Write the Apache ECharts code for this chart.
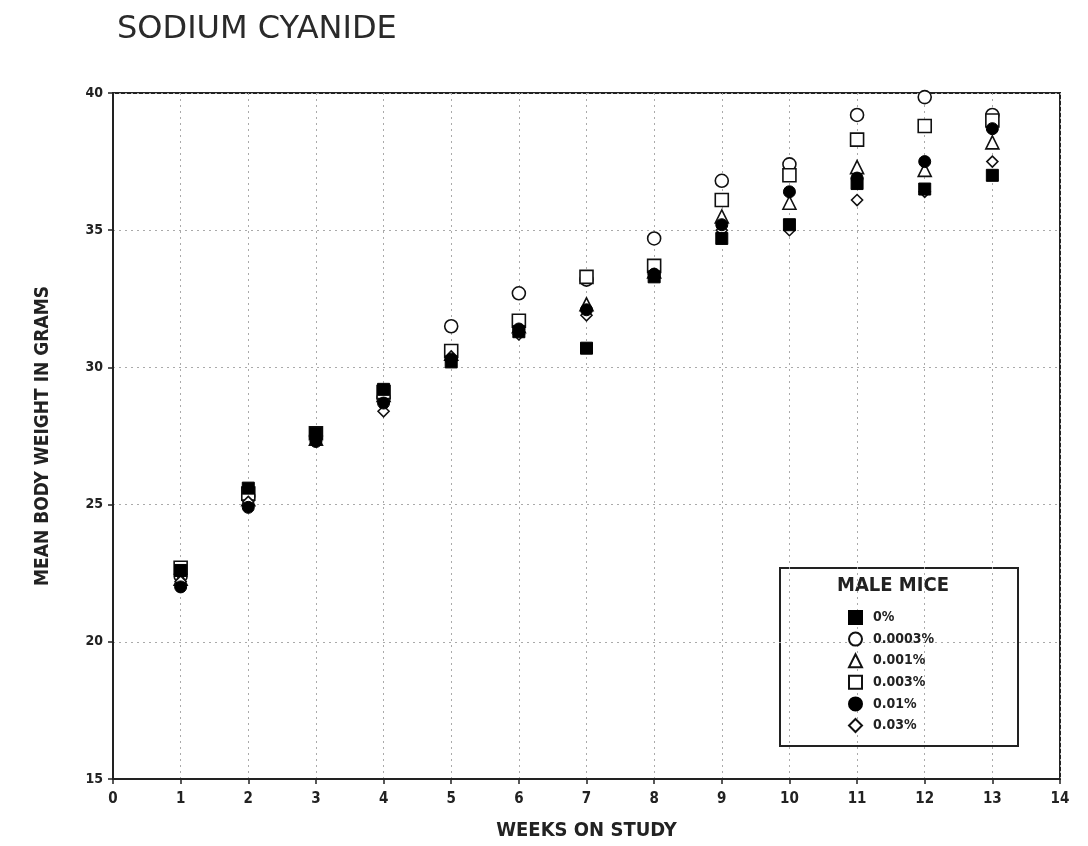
<!DOCTYPE html>
<html>
<head>
<meta charset="utf-8">
<script src="https://cdn.jsdelivr.net/npm/echarts@6/dist/echarts.min.js"></script>
<style>
html,body{margin:0;padding:0;background:#fff;}
#chart{width:1088px;height:846px;}
</style>
</head>
<body>
<div id="chart"></div>
<script>
const weeks = [1,2,3,4,5,6,7,8,9,10,11,12,13];
const seriesNames = ['0%','0.0003%','0.001%','0.003%','0.01%','0.03%'];
const dose0     = [22.6,25.6,27.6,29.2,30.2,31.3,30.7,33.3,34.7,35.2,36.7,36.5,37.0];
const dose00003 = [22.4,25.3,27.5,28.9,31.5,32.7,33.2,34.7,36.8,37.4,39.2,39.85,39.2];
const dose0001  = [22.3,25.2,27.4,29.0,30.5,31.5,32.3,33.5,35.5,36.0,37.3,37.2,38.2];
const dose0003  = [22.7,25.4,27.6,29.1,30.6,31.7,33.3,33.7,36.1,37.0,38.3,38.8,39.0];
const dose001   = [22.0,24.9,27.3,28.7,30.3,31.4,32.1,33.4,35.2,36.4,36.9,37.5,38.7];
const dose003   = [22.2,25.1,27.4,28.4,30.4,31.2,31.9,33.4,35.0,35.0,36.1,36.4,37.5];
const xTicks = [0,1,2,3,4,5,6,7,8,9,10,11,12,13,14];
const yTicks = [15,20,25,30,35,40];

const allValues = [dose0,dose00003,dose0001,dose0003,dose001,dose003];
const symbols = ['rect','circle','triangle','rect','circle','diamond'];
const filled  = [true,false,false,false,true,false];
const sizes   = [12,13,13,13,12,11];

const font = 'DejaVu Sans Condensed, Liberation Sans Narrow, DejaVu Sans, sans-serif';

const chart = echarts.init(document.getElementById('chart'), null, {renderer:'canvas'});
const series = seriesNames.map((n,i)=>({
  name:n,
  type:'scatter',
  symbol:symbols[i],
  symbolSize:sizes[i],
  data: weeks.map((w,j)=>[w, allValues[i][j]]),
  itemStyle: filled[i] ? {color:'#000', borderColor:'#000', borderWidth:1, opacity:1}
                       : {color:'#fff', borderColor:'#111', borderWidth:1.6, opacity:1},
  z: filled[i] ? 4 : 3
}));

chart.setOption({
  backgroundColor:'#fff',
  animation:false,
  title:{
    text:'SODIUM CYANIDE',
    left:112, top:9,
    textStyle:{fontFamily:'DejaVu Sans, sans-serif', fontSize:32, fontWeight:'normal', color:'#2a2a2a'}
  },
  grid:{left:113, right:28, top:93, bottom:65, show:true, borderColor:'#222', borderWidth:2, backgroundColor:'transparent'},
  xAxis:{
    type:'value', min:0, max:14, interval:1,
    name:'WEEKS ON STUDY', nameLocation:'middle', nameGap:42,
    nameTextStyle:{fontFamily:font, fontSize:20, fontWeight:'bold', color:'#222'},
    axisLine:{show:true, onZero:false, lineStyle:{color:'#222', width:2}},
    axisTick:{show:true, length:5, lineStyle:{color:'#222', width:1.5}},
    axisLabel:{fontFamily:font, fontSize:15, fontWeight:'bold', color:'#222', margin:13,
      formatter:v=>xTicks.includes(v)?String(v):''},
    splitLine:{show:true, lineStyle:{color:'#aaa', type:[2,4], width:1}}
  },
  yAxis:{
    type:'value', min:15, max:40, interval:5,
    name:'MEAN BODY WEIGHT IN GRAMS', nameLocation:'middle', nameGap:60,
    nameTextStyle:{fontFamily:font, fontSize:19, fontWeight:'bold', color:'#222'},
    axisLine:{show:true, onZero:false, lineStyle:{color:'#222', width:2}},
    axisTick:{show:true, length:5, lineStyle:{color:'#222', width:1.5}},
    axisLabel:{fontFamily:font, fontSize:14, fontWeight:'bold', color:'#222', margin:10,
      formatter:v=>yTicks.includes(v)?String(v):''},
    splitLine:{show:true, lineStyle:{color:'#aaa', type:[2,4], width:1}}
  },
  legend:{
    orient:'vertical', left:843, top:605,
    itemWidth:13, itemHeight:13, itemGap:6.6,
    textStyle:{fontFamily:font, fontSize:14, fontWeight:'bold', color:'#222', padding:[0,0,0,6]},
    data:seriesNames
  },
  graphic:[
    {type:'rect', left:779, top:567, shape:{width:238, height:178},
     style:{fill:'#fff', stroke:'#222', lineWidth:2}, z:-1, silent:true},
    {type:'text', left:837, top:576,
     style:{text:'MALE MICE', fontFamily:font, fontSize:20, fontWeight:'bold', fill:'#222'}}
  ],
  series:series
});
</script>
</body>
</html>
